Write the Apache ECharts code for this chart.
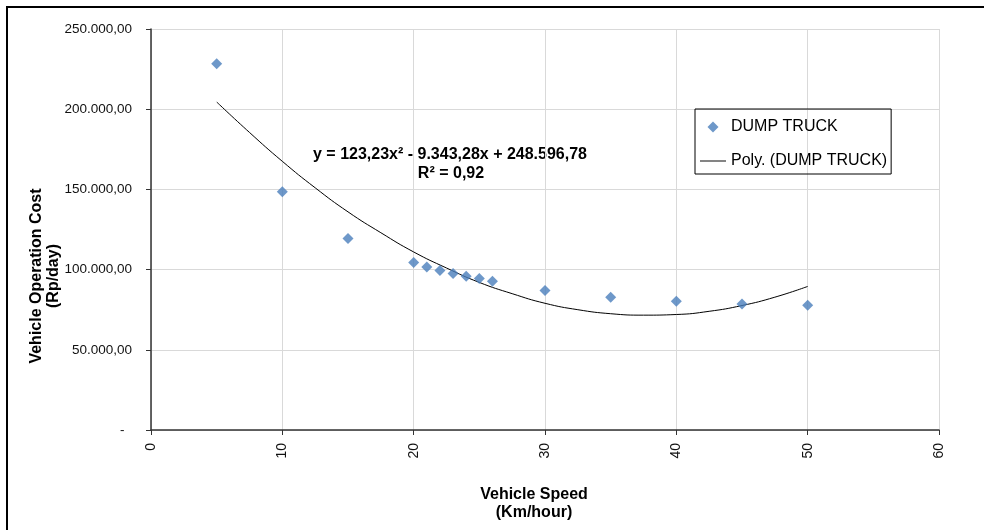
<!DOCTYPE html>
<html>
<head>
<meta charset="utf-8">
<script src="https://cdn.jsdelivr.net/npm/echarts@6/dist/echarts.min.js"></script>
<style>
  html, body { margin: 0; padding: 0; background: #fff; }
  #chart { width: 984px; height: 530px; }
</style>
</head>
<body>
<div id="chart"></div>
<script>
// kecepatan (km/jam) dan biaya operasi kendaraan (Rp/hari)
const speed = [5, 10, 15, 20, 21, 22, 23, 24, 25, 26, 30, 35, 40, 45, 50];
const cost = [228400, 148600, 119400, 104500, 101600, 99500, 97600, 95800, 94500, 92700, 87000, 82700, 80200, 78500, 77700];

// garis trend polinomial
const trendSpeed = [5, 7.5, 10, 12.5, 15, 17.5, 20, 22.5, 25, 27.5, 30, 32.5, 35, 37.5, 40, 42.5, 45, 47.5, 50];
const trendCost = [204500, 185500, 167500, 151000, 136000, 123000, 111000, 101000, 92000, 85000, 79000, 75000, 72500, 71600, 72000, 74000, 77600, 82800, 89500];

const xTicks = [0, 10, 20, 30, 40, 50, 60];
const yTicks = [0, 50000, 100000, 150000, 200000, 250000];

const font = 'Liberation Sans, Arial, sans-serif';

function formatRp(v) {
    if (v === 0) return '-  ';
    let s = Math.round(v).toString().replace(/\B(?=(\d{3})+(?!\d))/g, '.');
    return s + ',00';
}

let chart = echarts.init(document.getElementById('chart'));
let option = {
    animation: false,
    backgroundColor: '#fff',
    grid: { left: 151, right: 45, top: 29, bottom: 100 },
    legend: {
        orient: 'vertical',
        left: 695,
        top: 109,
        padding: [10, 4, 5, 5],
        itemGap: 18,
        itemWidth: 26,
        itemHeight: 11,
        symbolKeepAspect: true,
        borderColor: '#000',
        borderWidth: 1,
        textStyle: { fontFamily: font, fontSize: 16, color: '#000' },
        data: [
            { name: 'DUMP TRUCK', icon: 'path://M5,0L10,5L5,10L0,5Z' },
            { name: 'Poly. (DUMP TRUCK)', icon: 'path://M0,0L26,0L26,1.2L0,1.2Z' }
        ]
    },
    xAxis: {
        type: 'value',
        min: xTicks[0],
        max: xTicks[xTicks.length - 1],
        interval: 10,
        axisLine: { show: true, onZero: false, lineStyle: { color: '#333', width: 1.5 } },
        axisTick: { show: true, length: 5, lineStyle: { color: '#333' } },
        splitLine: { show: true, lineStyle: { color: '#d9d9d9', width: 1 } },
        axisLabel: { rotate: 90, margin: 13, fontFamily: font, fontSize: 14, color: '#111' }
    },
    yAxis: {
        type: 'value',
        min: yTicks[0],
        max: yTicks[yTicks.length - 1],
        interval: 50000,
        axisLine: { show: true, lineStyle: { color: '#333', width: 1.5 } },
        axisTick: { show: true, length: 5, lineStyle: { color: '#333' } },
        splitLine: { show: true, lineStyle: { color: '#d9d9d9', width: 1 } },
        axisLabel: { margin: 19, fontFamily: font, fontSize: 13.5, color: '#111', formatter: formatRp }
    },
    series: [
        {
            name: 'DUMP TRUCK',
            type: 'scatter',
            symbol: 'diamond',
            symbolSize: 11,
            itemStyle: { color: '#4a7ebb' },
            data: speed.map((s, i) => [s, cost[i]]),
            z: 3
        },
        {
            name: 'Poly. (DUMP TRUCK)',
            type: 'line',
            smooth: true,
            symbol: 'none',
            lineStyle: { color: '#000', width: 1 },
            itemStyle: { color: '#333' },
            data: trendSpeed.map((s, i) => [s, trendCost[i]]),
            z: 2
        }
    ],
    graphic: [
        {
            type: 'rect',
            shape: { x: 7, y: 7, width: 1200, height: 800 },
            style: { fill: 'none', stroke: '#000', lineWidth: 2 },
            silent: true
        },
        {
            type: 'text',
            x: 450, y: 155,
            style: {
                text: 'y = 123,23x² - 9.343,28x + 248.596,78',
                font: 'bold 16px ' + font,
                fill: '#000', align: 'center', verticalAlign: 'middle'
            }
        },
        {
            type: 'text',
            x: 451, y: 174,
            style: {
                text: 'R² = 0,92',
                font: 'bold 16px ' + font,
                fill: '#000', align: 'center', verticalAlign: 'middle'
            }
        },
        {
            type: 'text',
            x: 45, y: 276,
            rotation: Math.PI / 2,
            style: {
                text: 'Vehicle Operation Cost\n(Rp/day)',
                font: 'bold 16px ' + font,
                lineHeight: 17,
                fill: '#000', align: 'center', verticalAlign: 'middle'
            }
        },
        {
            type: 'text',
            x: 534, y: 504,
            style: {
                text: 'Vehicle Speed\n(Km/hour)',
                font: 'bold 16px ' + font,
                lineHeight: 18,
                fill: '#000', align: 'center', verticalAlign: 'middle'
            }
        }
    ]
};
chart.setOption(option);
</script>
</body>
</html>
